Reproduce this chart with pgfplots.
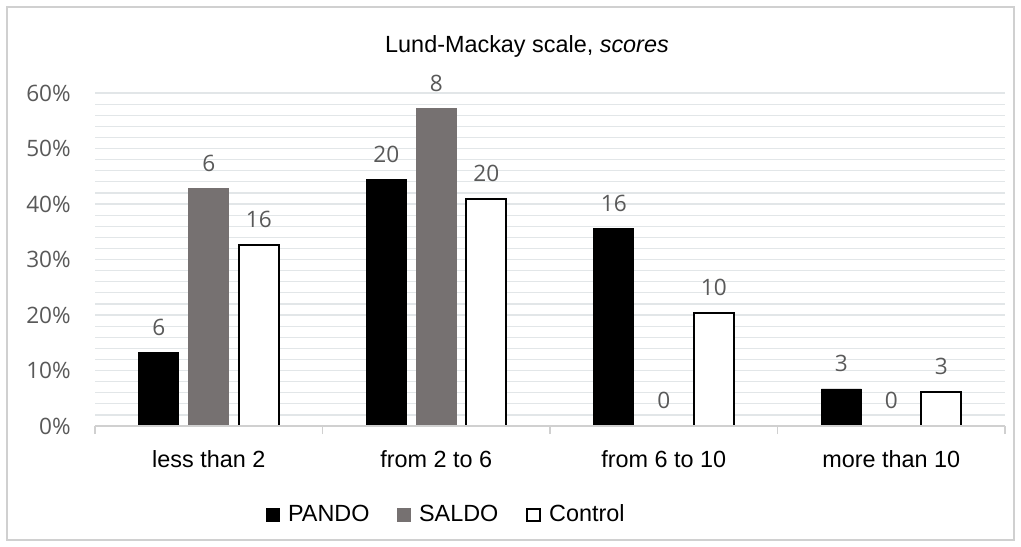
\documentclass[border=0pt]{standalone}
\usepackage{fontspec}
\setmainfont{Liberation Sans}
\newfontfamily\numfont{Open Sans}
\usepackage{pgfplots}
\pgfplotsset{compat=1.18}
\definecolor{saldo}{HTML}{767171}
\definecolor{gridc}{HTML}{E2E6E8}
\definecolor{lab}{HTML}{595959}
\definecolor{axc}{HTML}{D0D0D0}
\newcommand{\tfont}{\fontsize{11.7}{14}\selectfont}
\newcommand{\nfont}{\numfont\fontsize{11.3}{13}\selectfont}
\begin{document}
\begin{tikzpicture}
\begin{axis}[
  scale only axis, width=455pt, height=166.5pt,
  at={(0pt,0pt)}, anchor=south west,
  xmin=-0.5, xmax=3.5, ymin=0, ymax=60,
  ybar=5pt, bar width=20pt,
  axis line style={draw=none},
  major tick length=0pt, minor tick length=0pt,
  xtick={0,1,2,3},
  xticklabels={less than 2, from 2 to 6, from 6 to 10, more than 10},
  xticklabel style={font=\tfont, yshift=-8.9pt},
  extra x ticks={-0.5,0.5,1.5,2.5,3.5},
  extra x tick labels={},
  extra x tick style={major tick length=4pt, tick align=outside, grid=none, tick style={draw=axc, line width=0.7pt}},
  xtick pos=left, ytick pos=left,
  ytick={0,10,20,30,40,50,60},
  yticklabels={0\%,10\%,20\%,30\%,40\%,50\%,60\%},
  yticklabel style={font=\nfont, text=lab, xshift=-8.6pt},
  minor y tick num=4,
  ymajorgrids, yminorgrids,
  major grid style={gridc, line width=0.6pt},
  minor grid style={gridc, line width=0.6pt},
  title={Lund-Mackay scale, \textit{scores}},
  title style={font=\tfont, at={(axis description cs:0.4747,1.0856)}, anchor=base},
  point meta=explicit symbolic,
  nodes near coords,
  every node near coord/.append style={font=\nfont, text=lab, anchor=south, inner sep=0pt, yshift=8.2pt},
  legend style={draw=none, fill=none, font=\tfont, at={(axis description cs:0.3874,-0.267)}, anchor=center, legend columns=3,
    /tikz/every odd column/.append style={column sep=2pt},
    /tikz/every even column/.append style={column sep=12pt}},
  legend image code/.code={\draw[#1] (0pt,-3.2pt) rectangle (6.4pt,3.2pt);},
]
\addplot[fill=black, draw=black] coordinates {(0,13.33) [6] (1,44.44) [20] (2,35.56) [16] (3,6.67) [3]};
\addplot[fill=saldo, draw=saldo] coordinates {(0,42.86) [6] (1,57.14) [8] (2,0) [0] (3,0) [0]};
\addplot[fill=white, draw=black, line width=1pt] coordinates {(0,32.65) [16] (1,40.82) [20] (2,20.41) [10] (3,6.12) [3]};
\legend{PANDO, SALDO, Control}
\draw[axc, line width=0.8pt] (rel axis cs:0,0) -- (rel axis cs:1,0);
\end{axis}
\draw[axc, line width=0.6pt] (-44pt,209.5pt) rectangle (459.5pt,-57pt);
\pgfresetboundingbox
\useasboundingbox (-47.5pt,213pt) rectangle (463pt,-60pt);
\end{tikzpicture}
\end{document}
